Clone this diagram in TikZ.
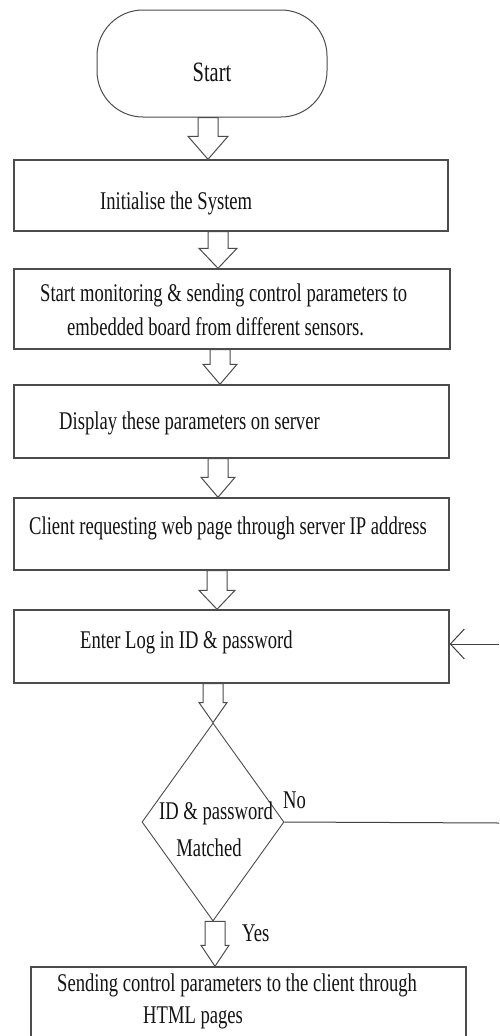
\documentclass[tikz,border=0pt]{standalone}
\usepackage{fontspec}
\setmainfont[FakeStretch=0.73]{Liberation Serif}
\usetikzlibrary{shapes.geometric,arrows.meta,calc}
\tikzset{
  box/.style={draw=black!70, line width=1.4pt, inner sep=0pt},
  term/.style={box, line width=1pt, rounded corners=46pt},
  dia/.style={diamond, draw=black!70, line width=0.9pt, inner sep=0pt},
  txt/.style={inner sep=0pt, anchor=west, text=black!92, font=\fontsize{25.5}{32}\selectfont},
  blk/.style={draw=black!70, line width=1pt, fill=white, line join=miter},
  conn/.style={draw=black!75, line width=1pt},
}
\newcommand{\blkarrow}[5]{%
  \draw[blk] let \p1=(#1.south), \p2=(#2.north) in
    (#3pt-10pt,\y1) -- (#3pt+10pt,\y1) -- (#3pt+10pt,\y2+#5pt) -- (#3pt+#4pt,\y2+#5pt)
    -- (#3pt,\y2) -- (#3pt-#4pt,\y2+#5pt) -- (#3pt-10pt,\y2+#5pt) -- cycle;}
\begin{document}
\begin{tikzpicture}[x=1pt,y=-1pt]
\clip (0,0) rectangle (499,1036);
\fill[white] (0,0) rectangle (499,1036);
% nodes
\node[term, minimum width=230pt, minimum height=107pt] (start) at (212,63.5) {};
\node[txt, anchor=center, font=\fontsize{28}{32}\selectfont] (tstart) at (212,72) {Start};
\node[box, minimum width=434pt, minimum height=71pt] (n1) at (231,195.5) {};
\node[txt] (t1) at (100,203) {Initialise the System};
\node[box, minimum width=436pt, minimum height=80pt] (n2) at (232,309) {};
\node[txt] (t2a) at (40,295) {Start monitoring \& sending control parameters to};
\node[txt] (t2b) at (67,327) {embedded board from different sensors.};
\node[box, minimum width=435pt, minimum height=73pt] (n3) at (231.5,421.5) {};
\node[txt] (t3) at (59,423) {Display these parameters on server};
\node[box, minimum width=435pt, minimum height=72pt] (n4) at (231.5,534) {};
\node[txt] (t4) at (29,528) {Client requesting web page through server IP address};
\node[box, minimum width=435pt, minimum height=73pt] (n5) at (231.5,646.5) {};
\node[txt] (t5) at (80,642) {Enter Log in ID \& password};
\node[dia, minimum width=142pt, minimum height=198pt] (d) at (213,822) {};
\node[txt, anchor=center] (td1) at (216,813) {ID \& password};
\node[txt, anchor=center] (td2) at (209,848) {Matched};
\node[txt] (tno) at (283,800) {No};
\node[txt] (tyes) at (242,933) {Yes};
\node[box, minimum width=435pt, minimum height=93pt] (n6) at (248.5,1013.5) {};
\node[txt] (t6a) at (57,985) {Sending control parameters to the client through};
\node[txt] (t6b) at (143,1018) {HTML pages};
% block arrows
\blkarrow{start}{n1}{208}{20}{23}
\blkarrow{n1}{n2}{218}{19}{20}
\blkarrow{n2}{n3}{220}{17}{20}
\blkarrow{n3}{n4}{218}{17}{20}
\blkarrow{n4}{n5}{217}{18}{19}
\blkarrow{n5}{d}{213}{14}{20}
\blkarrow{d}{n6}{215}{14}{21}
% loop back
\coordinate (rno) at (499,823);
\coordinate (rback) at (499,644);
\draw[conn] (d.east) -- (rno);
\draw[conn, -{Straight Barb[length=14pt,width=30pt]}] (rback) -- (rback -| n5.east);
\end{tikzpicture}
\end{document}
